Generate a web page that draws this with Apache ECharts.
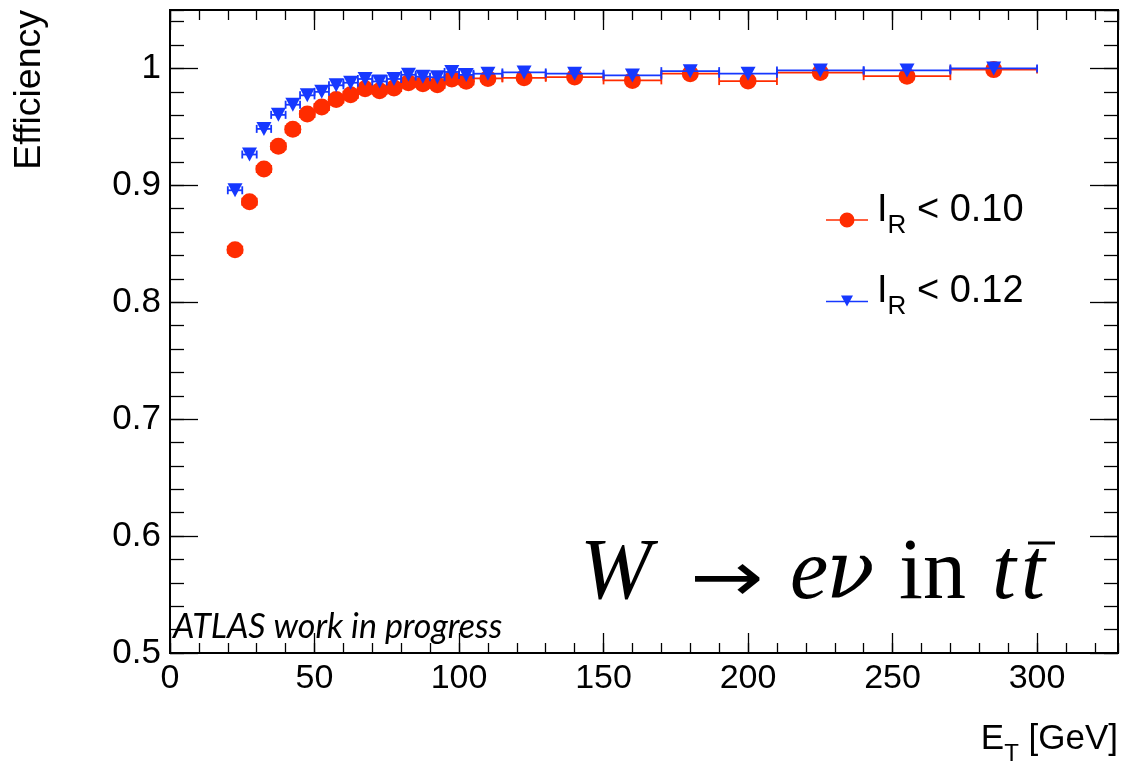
<!DOCTYPE html>
<html>
<head>
<meta charset="utf-8">
<title>Efficiency vs E_T</title>
<script src="https://cdn.jsdelivr.net/npm/echarts@6/dist/echarts.min.js"></script>
<style>
  html, body { margin: 0; padding: 0; background: #fff; }
  #chart { width: 1121px; height: 765px; }
</style>
</head>
<body>
<div id="chart"></div>
<script>
// Bin edges in E_T [GeV]; one efficiency value per bin
const binEdges = [20, 25, 30, 35, 40, 45, 50, 55, 60, 65, 70, 75, 80, 85, 90, 95, 100,
                  105, 115, 130, 150, 170, 190, 210, 240, 270, 300];

// Efficiency for the isolation cut I_R < 0.10
const effIsoR010 = [0.845, 0.886, 0.914, 0.9335, 0.948, 0.961, 0.967, 0.9735, 0.9775,
                    0.9826, 0.981, 0.9832, 0.9878, 0.987, 0.986, 0.991, 0.989,
                    0.9915, 0.992, 0.9926, 0.9898, 0.9955, 0.9892, 0.9965, 0.9934, 0.999];

// Efficiency for the isolation cut I_R < 0.12
const effIsoR012 = [0.8958, 0.9264, 0.9483, 0.9603, 0.969, 0.977, 0.980, 0.9856, 0.9878,
                    0.991, 0.9889, 0.991, 0.9946, 0.993, 0.9925, 0.997, 0.9945,
                    0.9955, 0.9966, 0.9955, 0.994, 0.9977, 0.9955, 0.9983, 0.9983, 1.000];

const seriesNames = ['I_R < 0.10', 'I_R < 0.12'];
const legendRich = {
  'I_R < 0.10': '{i|I}{r|R}{t| < 0.10}',
  'I_R < 0.12': '{i|I}{r|R}{t| < 0.12}'
};

const RED = '#ff2c00';
const BLUE = '#1638ff';
const SANS = '"Liberation Sans", Arial, Helvetica, sans-serif';
const SERIF = '"Liberation Serif", "Times New Roman", serif';

function markerData(eff) {
  return eff.map((v, i) => [(binEdges[i] + binEdges[i + 1]) / 2, v]);
}
function barData(eff) {
  return eff.map((v, i) => [binEdges[i], binEdges[i + 1], v]);
}

function errorBarSeries(name, color, eff, z) {
  return {
    type: 'custom',
    name: name,
    xAxisIndex: 0,
    yAxisIndex: 0,
    z: z,
    silent: true,
    data: barData(eff),
    encode: { x: [0, 1], y: 2 },
    renderItem: function (params, api) {
      const y = api.value(2);
      const a = api.coord([api.value(0), y]);
      const b = api.coord([api.value(1), y]);
      const cap = 4;
      const st = { stroke: color, lineWidth: 1.8 };
      return {
        type: 'group',
        children: [
          { type: 'line', shape: { x1: a[0], y1: a[1], x2: b[0], y2: b[1] }, style: st },
          { type: 'line', shape: { x1: a[0], y1: a[1] - cap, x2: a[0], y2: a[1] + cap }, style: st },
          { type: 'line', shape: { x1: b[0], y1: b[1] - cap, x2: b[0], y2: b[1] + cap }, style: st }
        ]
      };
    }
  };
}

const tickStyle = { color: '#000', width: 1.3 };

function xAxis(position, interval, len, labels) {
  return {
    type: 'value', min: 0, max: 328, interval: interval, position: position,
    axisLine: { show: false, onZero: false },
    splitLine: { show: false },
    axisTick: { show: true, inside: true, length: len, lineStyle: tickStyle },
    axisLabel: labels ? {
      show: true, margin: 9, color: '#000', fontSize: 34, fontFamily: SANS,
      showMaxLabel: false
    } : { show: false }
  };
}
function yAxis(position, interval, len, labels) {
  return {
    type: 'value', min: 0.5, max: 1.05, interval: interval, position: position,
    axisLine: { show: false, onZero: false },
    splitLine: { show: false },
    axisTick: { show: true, inside: true, length: len, lineStyle: tickStyle },
    axisLabel: labels ? {
      show: true, margin: 9, color: '#000', fontSize: 35, fontFamily: SANS,
      showMaxLabel: false,
      formatter: function (v) { return String(+v.toFixed(2)); }
    } : { show: false }
  };
}

function label(text, x, y, font, extra) {
  return Object.assign({
    type: 'text', x: x, y: y,
    style: {
      text: text, font: font, fill: '#000',
      align: 'left', verticalAlign: 'middle', textAlign: 'left', textVerticalAlign: 'middle'
    }
  }, extra || {});
}

const chart = echarts.init(document.getElementById('chart'), null, { renderer: 'canvas' });

// baseline of the process label and its em-middle offset
const formulaBase = 605;
const formulaMid = formulaBase - 0.3465 * 86;

const option = {
  animation: false,
  backgroundColor: '#fff',
  grid: {
    left: 170, top: 10, width: 948, height: 643,
    show: true, borderColor: '#000', borderWidth: 2, backgroundColor: 'transparent'
  },
  xAxis: [
    xAxis('bottom', 50, 20, true),
    xAxis('bottom', 10, 10, false),
    xAxis('top', 50, 20, false),
    xAxis('top', 10, 10, false)
  ],
  yAxis: [
    yAxis('left', 0.1, 28, true),
    yAxis('left', 0.02, 14, false),
    yAxis('right', 0.1, 28, false),
    yAxis('right', 0.02, 14, false)
  ],
  legend: {
    orient: 'vertical',
    left: 821,
    top: 187,
    itemGap: 34,
    itemWidth: 42,
    itemHeight: 15,
    selectedMode: false,
    data: [
      { name: seriesNames[0], icon: 'path://M0,7.25h42v1.5h-42z M21,0.5a7.5,7.5 0 1,1 -0.01,0z' },
      { name: seriesNames[1], icon: 'path://M0,6.25h42v1.5h-42z M15,1h12l-6,11z' }
    ],
    formatter: function (name) { return legendRich[name]; },
    textStyle: {
      color: '#000',
      rich: {
        i: { fontSize: 38, lineHeight: 38, fontFamily: SANS, padding: [0, 0, 9, 4], verticalAlign: 'bottom' },
        r: { fontSize: 26, lineHeight: 26, fontFamily: SANS, verticalAlign: 'bottom' },
        t: { fontSize: 38, lineHeight: 38, fontFamily: SANS, padding: [0, 0, 9, 0], verticalAlign: 'bottom' }
      }
    }
  },
  series: [
    errorBarSeries('err010', RED, effIsoR010, 2),
    {
      type: 'scatter', name: seriesNames[0], z: 3,
      xAxisIndex: 0, yAxisIndex: 0,
      symbol: 'circle', symbolSize: 17,
      itemStyle: { color: RED, opacity: 1 },
      emphasis: { disabled: true },
      data: markerData(effIsoR010)
    },
    errorBarSeries('err012', BLUE, effIsoR012, 4),
    {
      type: 'scatter', name: seriesNames[1], z: 5,
      xAxisIndex: 0, yAxisIndex: 0,
      symbol: 'triangle', symbolSize: [15, 14], symbolRotate: 180,
      itemStyle: { color: BLUE, opacity: 1 },
      emphasis: { disabled: true },
      data: markerData(effIsoR012)
    }
  ],
  graphic: [
    {
      type: 'text', x: 30, y: 10, rotation: Math.PI / 2,
      style: {
        text: 'Efficiency', font: '37.5px ' + SANS, fill: '#000',
        align: 'right', verticalAlign: 'middle', textAlign: 'right', textVerticalAlign: 'middle'
      }
    },
    {
      type: 'text', x: 1118, y: 766,
      style: {
        text: '{a|E}{b|T}{a| [GeV]}', fill: '#000',
        align: 'right', verticalAlign: 'bottom', textAlign: 'right', textVerticalAlign: 'bottom',
        rich: {
          a: { fontSize: 35, lineHeight: 35, fontFamily: SANS, padding: [0, 0, 9, 0], verticalAlign: 'bottom' },
          b: { fontSize: 24, lineHeight: 24, fontFamily: SANS, verticalAlign: 'bottom' }
        }
      }
    },
    label('ATLAS work in progress', 173, 640 - 0.387 * 34, 'italic 34px Lato, "Open Sans", sans-serif'),
    // W -> e nu in t tbar
    label('W', 580, formulaMid, 'italic 86px ' + SERIF),
    label('\u2192', 690, 583, '88px "DejaVu Sans", "DejaVu Serif", sans-serif', { scaleY: 0.8 }),
    label('e', 790, formulaMid, 'italic 86px ' + SERIF),
    label('\u03BD', 826, formulaBase - 0.3465 * 80, 'italic 80px "DejaVu Serif", serif'),
    label('in', 899, formulaMid, '86px ' + SERIF),
    label('t', 992, formulaMid, 'italic 86px ' + SERIF),
    label('t', 1021, formulaMid, 'italic 86px ' + SERIF),
    {
      type: 'line', shape: { x1: 1028, y1: 543, x2: 1055, y2: 543 },
      style: { stroke: '#000', lineWidth: 3 }
    }
  ]
};

chart.setOption(option);
</script>
</body>
</html>
